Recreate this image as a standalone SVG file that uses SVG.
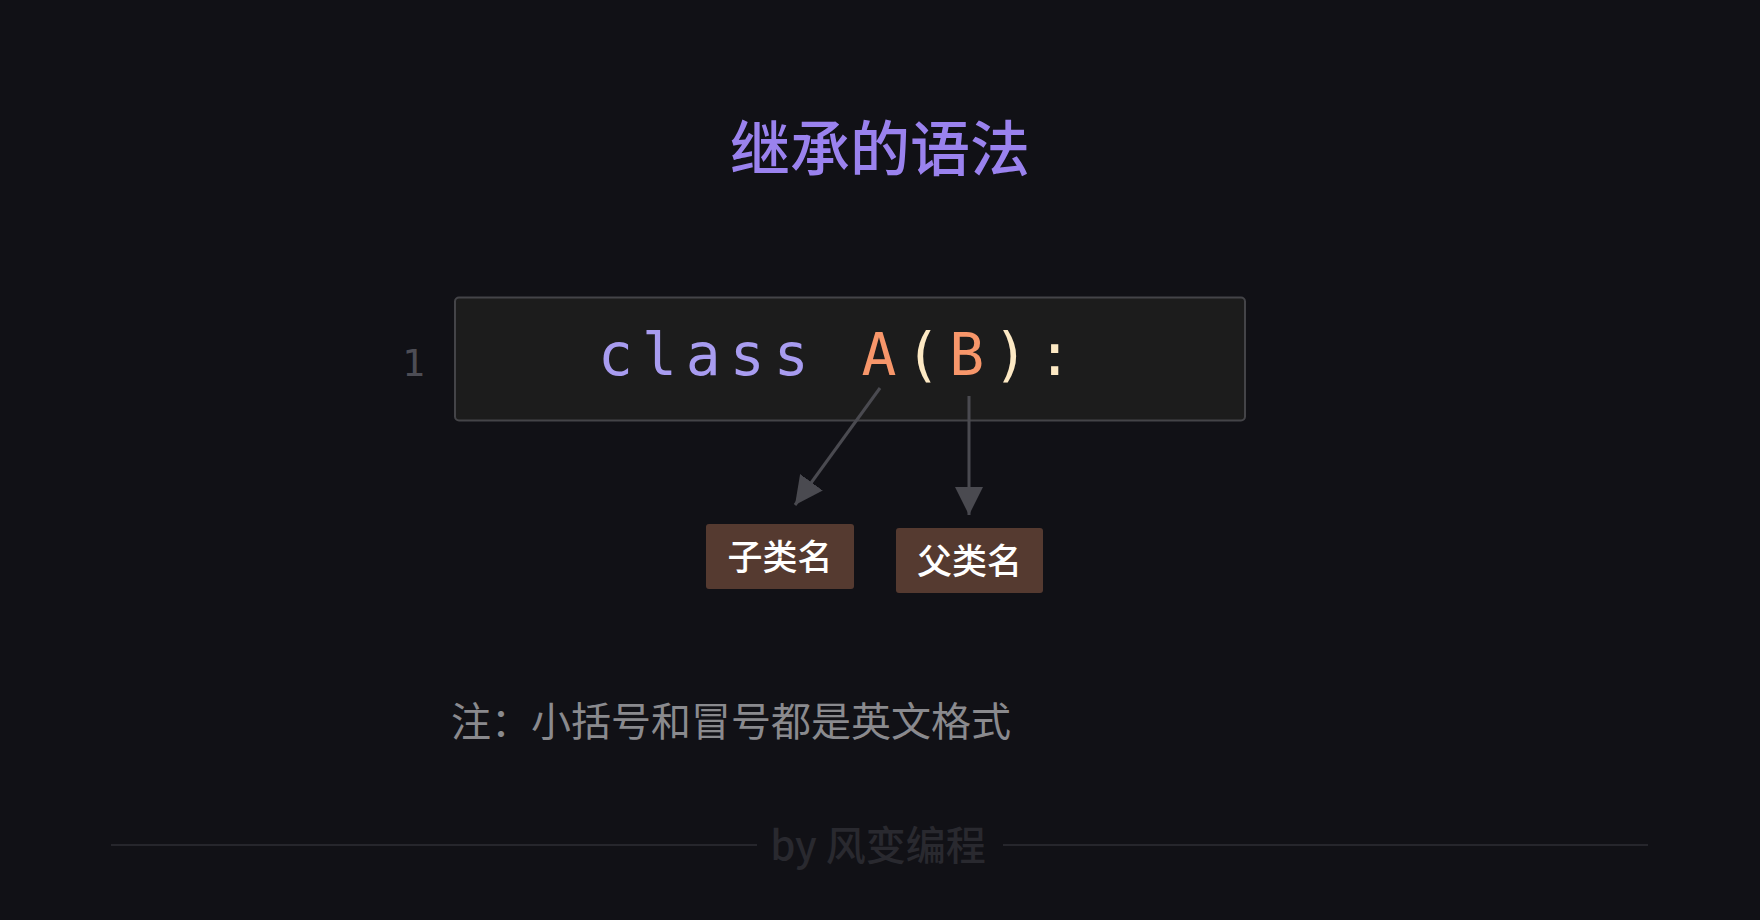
<svg xmlns="http://www.w3.org/2000/svg" width="1760" height="920" viewBox="0 0 1760 920">
  <defs>
    <marker id="arr" viewBox="0 0 10 10" refX="10" refY="5" markerWidth="28" markerHeight="28" markerUnits="userSpaceOnUse" orient="auto">
      <path d="M0,0 L10,5 L0,10 Z" fill="#4a4a50"/>
    </marker>
    <style>
      .cjk { font-family: "Noto Sans CJK SC", "Noto Sans", sans-serif; }
      .mono { font-family: "DejaVu Sans Mono", "Liberation Mono", monospace; font-size: 58px; letter-spacing: 9px; }
      .conn { stroke: #4a4a50; stroke-width: 3; fill: none; }
      .tag { fill: #553a30; }
      .tagtxt { fill: #ffffff; font-size: 35px; font-weight: 500; text-anchor: middle; }
    </style>
  </defs>
  <rect x="0" y="0" width="1760" height="920" fill="#111116"/>

  <g id="title">
    <text x="880" y="171" class="cjk" font-size="60" font-weight="500" fill="#9a82ee" text-anchor="middle">继承的语法</text>
  </g>

  <g id="code">
    <text x="402" y="376" font-family="DejaVu Sans Mono, Liberation Mono, monospace" font-size="38" fill="#4d4d55">1</text>
    <rect x="455" y="297.5" width="790" height="123" rx="4" fill="#1c1c1c" stroke="#444448" stroke-width="2"/>
    <text x="598" y="375" class="mono"><tspan fill="#a89cf0">class </tspan><tspan fill="#f7966a">A</tspan><tspan fill="#fde9c4">(</tspan><tspan fill="#f7966a">B</tspan><tspan fill="#fde9c4">):</tspan></text>
  </g>

  <g id="connectors">
    <line x1="880" y1="388" x2="795" y2="505" class="conn" marker-end="url(#arr)"/>
    <line x1="969" y1="396" x2="969" y2="515" class="conn" marker-end="url(#arr)"/>
  </g>

  <g id="subclass">
    <rect x="706" y="524" width="148" height="65" rx="3" class="tag"/>
    <text x="780" y="570" class="cjk tagtxt">子类名</text>
  </g>

  <g id="parentclass">
    <rect x="896" y="528" width="147" height="65" rx="3" class="tag"/>
    <text x="969.5" y="574" class="cjk tagtxt">父类名</text>
  </g>

  <g id="note">
    <text x="451" y="736" class="cjk" font-size="40" fill="#8a8a8e">注：小括号和冒号都是英文格式</text>
  </g>

  <g id="footer">
    <line x1="111" y1="845" x2="757" y2="845" stroke="#26262c" stroke-width="2"/>
    <line x1="1003" y1="845" x2="1648" y2="845" stroke="#26262c" stroke-width="2"/>
    <text x="878" y="860" class="cjk" font-size="40" font-weight="500" fill="#29292f" text-anchor="middle">by 风变编程</text>
  </g>
</svg>
